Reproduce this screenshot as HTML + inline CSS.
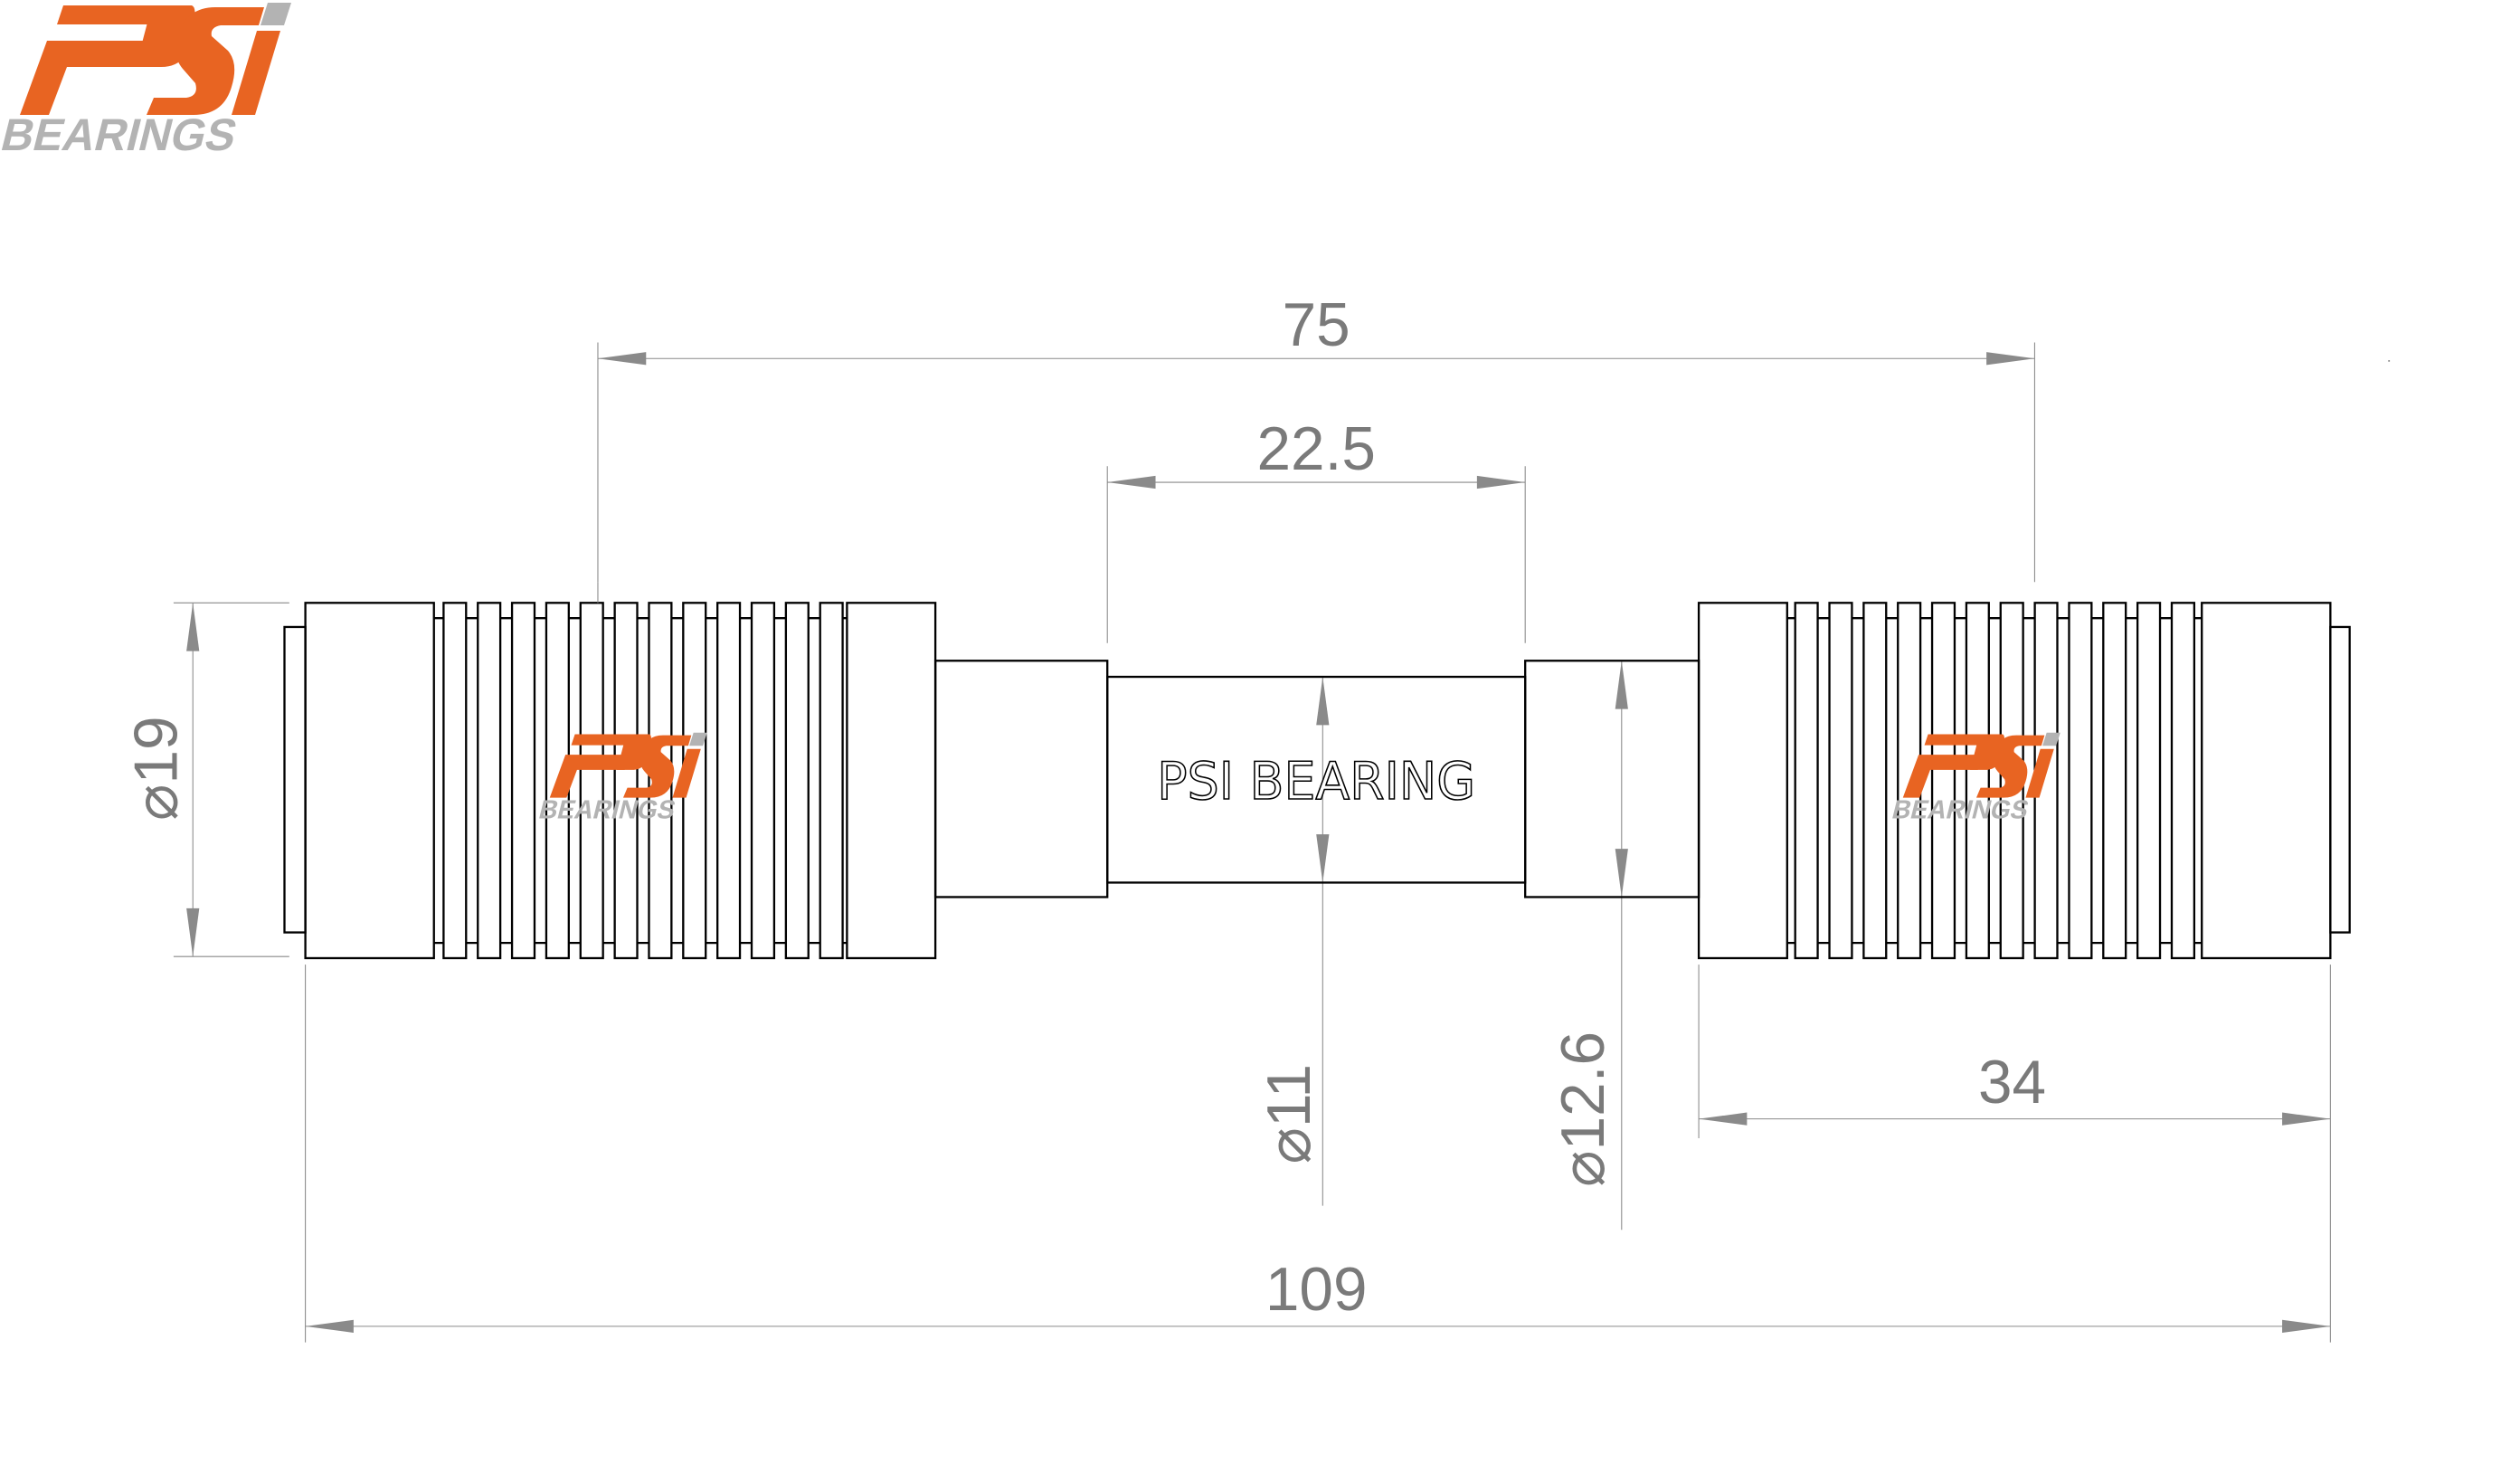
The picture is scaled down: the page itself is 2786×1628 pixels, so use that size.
<!DOCTYPE html>
<html><head><meta charset="utf-8"><style>
html,body{margin:0;padding:0;background:#fff;}
svg{display:block;}
</style></head><body>
<svg width="2786" height="1628" viewBox="0 0 2786 1628" xmlns="http://www.w3.org/2000/svg">
<defs>
<g id="lg">
<path fill="#e86422" d="M70,6 H210 L200,27 H63 Z"/>
<path fill="#e86422" d="M168,6 H212 Q218,8 214,30 L204,62 Q196,74 178,74 H150 Z"/>
<path fill="#e86422" d="M52,45 H172 L165,74 H74 L54,127 H22 Z"/>
<path fill="#e86422" d="M238,8 H292 L286,28 H244 Q232,30 234,40 L252,56 Q264,70 256,96 Q247,127 214,127 H162 L170,108 H206 Q220,106 216,92 L202,76 Q190,62 196,40 Q206,8 238,8 Z"/>
<path fill="#b3b3b3" d="M296,3 H322 L314,28 H288 Z"/>
<path fill="#e86422" d="M284,34 H310 L282,127 H256 Z"/>
<text x="40" y="166" transform="skewX(-14)" font-family="Liberation Sans, sans-serif" font-weight="bold" font-size="50" fill="#b3b3b3" textLength="258" lengthAdjust="spacingAndGlyphs">BEARINGS</text>
</g>
</defs>
<rect width="2786" height="1628" fill="#fff"/>
<use href="#lg"/>

<g transform="scale(1.7768)">
<!-- dimension lines -->
<g stroke="#8a8a8a" stroke-width="0.6" fill="none">
<line x1="372" y1="213" x2="372" y2="362"/><line x1="1266" y1="213" x2="1266" y2="362"/>
<line x1="372" y1="223" x2="1266" y2="223"/>
<line x1="689" y1="290" x2="689" y2="400"/><line x1="949" y1="290" x2="949" y2="400"/>
<line x1="689" y1="300" x2="949" y2="300"/>
<line x1="108" y1="375" x2="180" y2="375"/><line x1="108" y1="595" x2="180" y2="595"/>
<line x1="120" y1="375" x2="120" y2="595"/>
<line x1="823" y1="421" x2="823" y2="750"/>
<line x1="1009" y1="411" x2="1009" y2="765"/>
<line x1="1057" y1="600" x2="1057" y2="708"/><line x1="1450" y1="600" x2="1450" y2="835"/>
<line x1="1057" y1="696" x2="1450" y2="696"/>
<line x1="190" y1="600" x2="190" y2="835"/>
<line x1="190" y1="825" x2="1450" y2="825"/>
</g>
<g fill="#8a8a8a">
<path d="M372,223 l30,-4 v8 z"/><path d="M1266,223 l-30,-4 v8 z"/>
<path d="M689,300 l30,-4 v8 z"/><path d="M949,300 l-30,-4 v8 z"/>
<path d="M120,375 l-4,30 h8 z"/><path d="M120,595 l-4,-30 h8 z"/>
<path d="M823,421 l-4,30 h8 z"/><path d="M823,549 l-4,-30 h8 z"/>
<path d="M1009,411 l-4,30 h8 z"/><path d="M1009,558 l-4,-30 h8 z"/>
<path d="M1057,696 l30,-4 v8 z"/><path d="M1450,696 l-30,-4 v8 z"/>
<path d="M190,825 l30,-4 v8 z"/><path d="M1450,825 l-30,-4 v8 z"/>
<rect x="1486" y="224" width="1" height="1"/>
</g>
<g font-family="Liberation Sans, sans-serif" font-size="38" fill="#7a7a7a" text-anchor="middle">
<text x="819" y="215">75</text>
<text x="819" y="292">22.5</text>
<text x="1252" y="686">34</text>
<text x="819" y="815">109</text>
<text transform="translate(110,478) rotate(-90)">⌀19</text>
<text transform="translate(815,693) rotate(-90)">⌀11</text>
<text transform="translate(998,690) rotate(-90)">⌀12.6</text>
</g>

<!-- part outlines -->
<g stroke="#000" stroke-width="1.3" fill="none">
<rect x="582" y="411" width="107" height="147"/>
<rect x="689" y="421" width="260" height="128"/>
<rect x="949" y="411" width="108" height="147"/>
<rect x="177" y="390" width="13" height="190"/>
<rect x="190" y="375" width="80" height="221"/>
<rect x="527" y="375" width="55" height="221"/>
<line x1="270" y1="384.5" x2="527" y2="384.5"/><line x1="270" y1="586.5" x2="527" y2="586.5"/>
<rect x="1450" y="390" width="12" height="190"/>
<rect x="1057" y="375" width="55" height="221"/>
<rect x="1370" y="375" width="80" height="221"/>
<line x1="1112" y1="384.5" x2="1370" y2="384.5"/><line x1="1112" y1="586.5" x2="1370" y2="586.5"/>
</g>
<g stroke="#000" stroke-width="1.3" fill="#fff">
<rect x="276" y="375" width="14" height="221"/><rect x="297.3" y="375" width="14" height="221"/>
<rect x="318.6" y="375" width="14" height="221"/><rect x="339.9" y="375" width="14" height="221"/>
<rect x="361.2" y="375" width="14" height="221"/><rect x="382.5" y="375" width="14" height="221"/>
<rect x="403.8" y="375" width="14" height="221"/><rect x="425.1" y="375" width="14" height="221"/>
<rect x="446.4" y="375" width="14" height="221"/><rect x="467.7" y="375" width="14" height="221"/>
<rect x="489" y="375" width="14" height="221"/><rect x="510.3" y="375" width="14" height="221"/>

<rect x="1117" y="375" width="14" height="221"/><rect x="1138.3" y="375" width="14" height="221"/>
<rect x="1159.6" y="375" width="14" height="221"/><rect x="1180.9" y="375" width="14" height="221"/>
<rect x="1202.2" y="375" width="14" height="221"/><rect x="1223.5" y="375" width="14" height="221"/>
<rect x="1244.8" y="375" width="14" height="221"/><rect x="1266.1" y="375" width="14" height="221"/>
<rect x="1287.4" y="375" width="14" height="221"/><rect x="1308.7" y="375" width="14" height="221"/>
<rect x="1330" y="375" width="14" height="221"/><rect x="1351.3" y="375" width="14" height="221"/>
</g>
<g stroke="#8a8a8a" stroke-width="0.6">
<line x1="372" y1="375" x2="372" y2="362"/>
</g>
<text x="819" y="497" text-anchor="middle" font-family="DejaVu Sans, Liberation Sans, sans-serif" font-size="32" fill="#fff" stroke="#000" stroke-width="0.9" textLength="198" lengthAdjust="spacingAndGlyphs">PSI BEARING</text>
</g>
<g transform="translate(595,808) scale(0.58)"><use href="#lg"/></g>
<g transform="translate(2091,808) scale(0.58)"><use href="#lg"/></g>
</svg>
</body></html>
